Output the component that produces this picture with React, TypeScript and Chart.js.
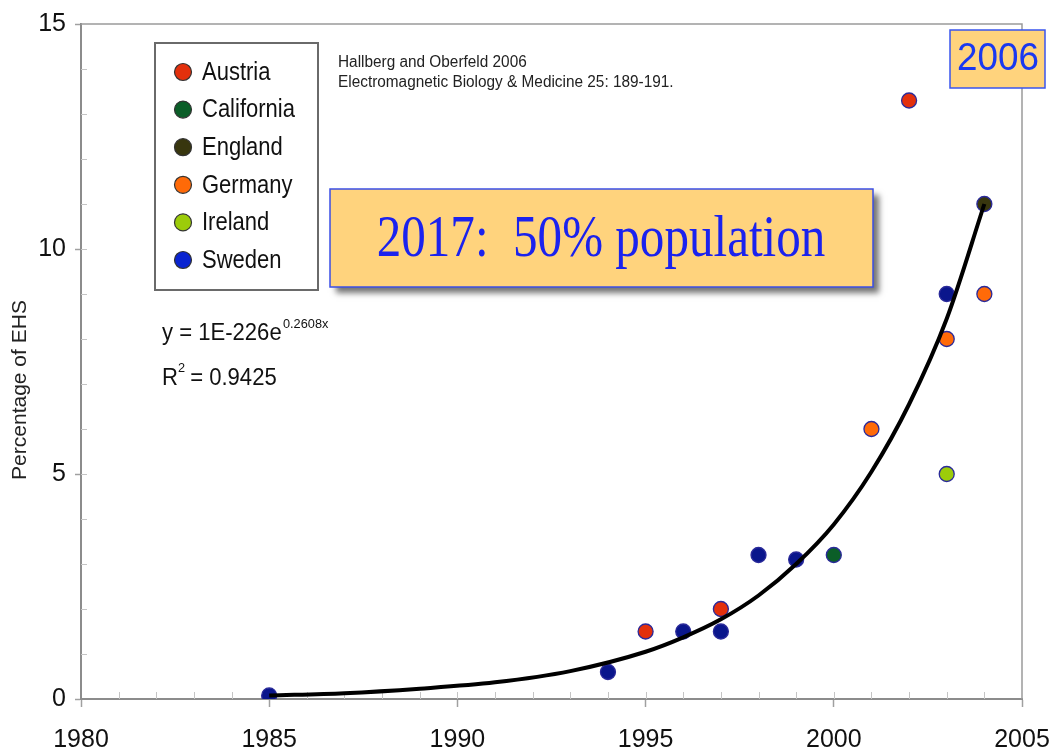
import React, { useEffect, useRef } from "react";
import { Chart, registerables } from "chart.js";

Chart.register(...registerables);

// ---- data ----
const countries = ["Austria", "California", "England", "Germany", "Ireland", "Sweden"];
const austriaYears = [1995, 1997, 2002];
const austriaValues = [1.5, 2.0, 13.3];
const californiaYears = [2000];
const californiaValues = [3.2];
const englandYears = [2004];
const englandValues = [11.0];
const germanyYears = [2001, 2003, 2004];
const germanyValues = [6.0, 8.0, 9.0];
const irelandYears = [2003];
const irelandValues = [5.0];
const swedenYears = [1985, 1994, 1996, 1997, 1998, 1999, 2003];
const swedenValues = [0.08, 0.6, 1.5, 1.5, 3.2, 3.1, 9.0];
const trendYears = [1985, 1987, 1989, 1991, 1993, 1995, 1996, 1997, 1998, 1999, 2000, 2001, 2002, 2003, 2004];
const trendValues = [0.08, 0.13, 0.23, 0.37, 0.62, 1.05, 1.37, 1.77, 2.3, 3.0, 3.88, 5.05, 6.55, 8.45, 11.0];
const xTickLabels = ["1980", "1985", "1990", "1995", "2000", "2005"];
const yTickLabels = ["0", "5", "10", "15"];

const pointColors = ["#e3300c", "#0b5e28", "#38360e", "#ff6a08", "#9ccc0a", "#0a168c"];
const legendColors = ["#e3300c", "#0b5e28", "#38360e", "#ff6a08", "#9ccc0a", "#0a24d0"];

const toXY = (xs: number[], ys: number[]) => xs.map((x, i) => ({ x, y: ys[i] }));

const seriesYears = [austriaYears, californiaYears, englandYears, germanyYears, irelandYears, swedenYears];
const seriesValues = [austriaValues, californiaValues, englandValues, germanyValues, irelandValues, swedenValues];

function drawText(
  ctx: CanvasRenderingContext2D,
  text: string,
  x: number,
  y: number,
  font: string,
  color: string,
  sx = 1,
  align: CanvasTextAlign = "left",
  baseline: CanvasTextBaseline = "alphabetic"
) {
  ctx.save();
  ctx.font = font;
  ctx.fillStyle = color;
  ctx.textAlign = align;
  ctx.textBaseline = baseline;
  ctx.translate(x, y);
  ctx.scale(sx, 1);
  ctx.fillText(text, 0, 0);
  ctx.restore();
}

const SANS = "'Liberation Sans', Arial, sans-serif";
const SERIF = "'Liberation Serif', 'Times New Roman', serif";
const NARROW = "'Liberation Sans Narrow', 'Arial Narrow', 'Liberation Sans', Arial, sans-serif";

const decorPlugin = {
  id: "decor",
  beforeDatasetsDraw(chart: any) {
    const ctx: CanvasRenderingContext2D = chart.ctx;
    const xs = chart.scales.x;
    const ys = chart.scales.y;
    const a = chart.chartArea;
    ctx.save();
    // frame (top & right)
    ctx.strokeStyle = "#9a9a9a";
    ctx.lineWidth = 1.5;
    ctx.beginPath();
    ctx.moveTo(a.left, a.top);
    ctx.lineTo(a.right, a.top);
    ctx.lineTo(a.right, a.bottom);
    ctx.stroke();
    // minor inner ticks
    ctx.strokeStyle = "#c4c4c4";
    ctx.lineWidth = 1;
    for (let yr = 1981; yr < 2005; yr++) {
      const px = Math.round(xs.getPixelForValue(yr)) + 0.5;
      ctx.beginPath();
      ctx.moveTo(px, a.bottom);
      ctx.lineTo(px, a.bottom - 7);
      ctx.stroke();
    }
    for (let v = 1; v < 15; v++) {
      const py = Math.round(ys.getPixelForValue(v)) + 0.5;
      ctx.beginPath();
      ctx.moveTo(a.left, py);
      ctx.lineTo(a.left + 6, py);
      ctx.stroke();
    }
    ctx.restore();
  },
  afterDraw(chart: any) {
    const ctx: CanvasRenderingContext2D = chart.ctx;
    // y-axis title
    ctx.save();
    ctx.translate(20, 390);
    ctx.rotate(-Math.PI / 2);
    ctx.font = `21px ${SANS}`;
    ctx.fillStyle = "#222";
    ctx.textAlign = "center";
    ctx.textBaseline = "middle";
    ctx.fillText("Percentage of EHS", 0, 0);
    ctx.restore();

    // legend box
    ctx.save();
    ctx.fillStyle = "#fff";
    ctx.fillRect(155, 43, 163, 247);
    ctx.strokeStyle = "#6a6a6a";
    ctx.lineWidth = 2;
    ctx.strokeRect(155, 43, 163, 247);
    ctx.restore();
    const ds = chart.data.datasets.filter((d: any) => d.legendColor);
    ds.forEach((d: any, i: number) => {
      const cy = 72 + i * 37.6;
      ctx.save();
      ctx.beginPath();
      ctx.arc(183, cy, 8.5, 0, Math.PI * 2);
      ctx.fillStyle = d.legendColor;
      ctx.fill();
      ctx.strokeStyle = "#333";
      ctx.lineWidth = 1.2;
      ctx.stroke();
      ctx.restore();
      drawText(ctx, d.label, 202, cy + 1, `25px ${SANS}`, "#111", 0.88, "left", "middle");
    });

    // citation
    drawText(ctx, "Hallberg and Oberfeld 2006", 338, 67, `16px ${SANS}`, "#222", 0.96);
    drawText(ctx, "Electromagnetic Biology & Medicine 25: 189-191.", 338, 87, `16px ${SANS}`, "#222", 0.96);

    // equation
    drawText(ctx, "y = 1E-226e", 162, 340, `23px ${SANS}`, "#111", 0.96);
    drawText(ctx, "0.2608x", 283, 328, `13px ${SANS}`, "#111", 0.98);
    drawText(ctx, "R", 162, 385, `23px ${SANS}`, "#111", 0.96);
    drawText(ctx, "2", 178, 372, `13px ${SANS}`, "#111", 0.98);
    drawText(ctx, " = 0.9425", 184, 385, `23px ${SANS}`, "#111", 0.96);

    // big annotation box
    ctx.save();
    ctx.shadowColor = "rgba(0,0,0,0.55)";
    ctx.shadowBlur = 6;
    ctx.shadowOffsetX = 6;
    ctx.shadowOffsetY = 6;
    ctx.fillStyle = "#ffd37d";
    ctx.fillRect(330, 189, 543, 98);
    ctx.restore();
    ctx.save();
    ctx.strokeStyle = "#3a4ee6";
    ctx.lineWidth = 1.5;
    ctx.strokeRect(330, 189, 543, 98);
    ctx.restore();
    drawText(ctx, "2017:  50% population", 601, 240, `59px ${SERIF}`, "#1b22ee", 0.832, "center", "middle");

    // 2006 box
    ctx.save();
    ctx.fillStyle = "#ffd37d";
    ctx.fillRect(950, 30, 95, 58);
    ctx.strokeStyle = "#3a55ee";
    ctx.lineWidth = 1.5;
    ctx.strokeRect(950, 30, 95, 58);
    ctx.restore();
    drawText(ctx, "2006", 998, 60, `38px ${SANS}`, "#1a38f0", 0.97, "center", "middle");
  },
};

export default function App() {
  const ref = useRef<HTMLCanvasElement | null>(null);

  useEffect(() => {
    document.body.style.margin = "0";
    if (!ref.current) return;
    const scatterSets = countries.map((name, i) => ({
      type: "scatter" as const,
      label: name,
      data: toXY(seriesYears[i], seriesValues[i]),
      backgroundColor: pointColors[i],
      borderColor: "#2a2a9a",
      borderWidth: 1.3,
      pointRadius: 7.5,
      pointHoverRadius: 7.5,
      order: 1,
      legendColor: legendColors[i],
    }));
    const chart = new Chart(ref.current, {
      type: "scatter",
      data: {
        datasets: [
          {
            type: "line" as const,
            label: "Trend",
            data: toXY(trendYears, trendValues),
            borderColor: "#000",
            borderWidth: 4,
            pointRadius: 0,
            fill: false,
            cubicInterpolationMode: "monotone",
            showLine: true,
            order: 0,
          } as any,
          ...(scatterSets as any[]),
        ],
      },
      options: {
        animation: false,
        responsive: false,
        devicePixelRatio: 1,
        layout: { padding: { left: 0, top: 24, right: 28, bottom: 0 } },
        plugins: {
          legend: { display: false },
          tooltip: { enabled: false },
          title: { display: false },
        },
        scales: {
          x: {
            type: "linear",
            min: 1980,
            max: 2005,
            afterFit: (s: any) => {
              s.height = 54;
              s.paddingLeft = 0;
              s.paddingRight = 0;
            },
            ticks: {
              stepSize: 1,
              autoSkip: false,
              maxRotation: 0,
              padding: 18,
              color: "#111",
              font: { family: NARROW, size: 25 },
              callback: (v: any) => {
                const i = xTickLabels.indexOf(String(v));
                return i >= 0 ? xTickLabels[i] : "";
              },
            },
            grid: {
              drawOnChartArea: false,
              drawTicks: true,
              tickLength: 8,
              tickWidth: 1.5,
              tickColor: (c: any) => (c.tick && c.tick.value % 5 === 0 ? "#a0a0a0" : "rgba(0,0,0,0)"),
            },
            border: { display: true, color: "#8c8c8c", width: 2 },
          },
          y: {
            type: "linear",
            min: 0,
            max: 15,
            afterFit: (s: any) => {
              s.width = 81;
              s.paddingTop = 0;
              s.paddingBottom = 0;
            },
            ticks: {
              stepSize: 1,
              autoSkip: false,
              padding: 9,
              color: "#111",
              font: { family: NARROW, size: 25 },
              callback: (v: any) => {
                const i = yTickLabels.indexOf(String(v));
                return i >= 0 ? yTickLabels[i] : "";
              },
            },
            grid: {
              drawOnChartArea: false,
              drawTicks: true,
              tickLength: 6,
              tickWidth: 1.5,
              tickColor: (c: any) => (c.tick && c.tick.value % 5 === 0 ? "#a0a0a0" : "rgba(0,0,0,0)"),
            },
            border: { display: true, color: "#8c8c8c", width: 2 },
          },
        },
      },
      plugins: [decorPlugin],
    } as any);
    return () => chart.destroy();
  }, []);

  return (
    <div style={{ position: "relative", width: 1050, height: 753, background: "#fff" }}>
      <canvas ref={ref} width={1050} height={753} style={{ display: "block" }} />
    </div>
  );
}
